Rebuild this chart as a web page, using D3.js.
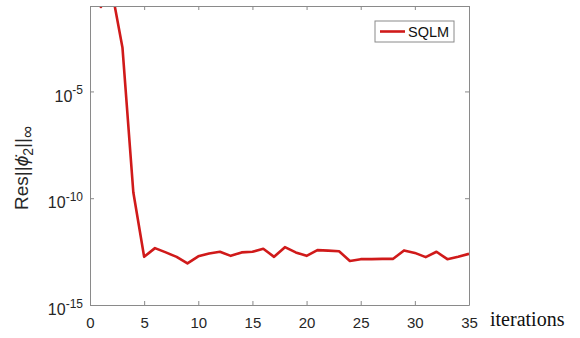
<!DOCTYPE html>
<html>
<head>
<meta charset="utf-8">
<script src="https://cdn.jsdelivr.net/npm/d3@7"></script>
<style>
  body { margin: 0; background: #fff; }
  svg { display: block; }
  .tick text { font-family: "Liberation Sans", Arial, sans-serif; fill: #262626; }
</style>
</head>
<body>
<div id="chart"></div>
<script>
// values
const iterations = d3.range(0, 36);
const residual = [
  1, 0.09, 0.6, 1.1e-3, 1.9e-10, 1.8e-13, 4.6e-13, 2.9e-13, 1.8e-13, 8.9e-14,
  1.9e-13, 2.6e-13, 3.1e-13, 2.0e-13, 2.9e-13, 3.1e-13, 4.3e-13, 1.8e-13, 5.1e-13, 2.9e-13,
  2.0e-13, 3.7e-13, 3.5e-13, 3.3e-13, 1.15e-13, 1.4e-13, 1.4e-13, 1.45e-13, 1.45e-13, 3.6e-13,
  2.75e-13, 1.75e-13, 3.1e-13, 1.4e-13, 1.8e-13, 2.5e-13
];
const xTicks = [0, 5, 10, 15, 20, 25, 30, 35];
const yTickExps = [-15, -10, -5];
const seriesName = "SQLM";

const width = 580, height = 338;
const margin = {top: 6, right: 111, bottom: 33, left: 90};
const iw = width - margin.left - margin.right;
const ih = height - margin.top - margin.bottom;
const red = "#d01a1a", axisCol = "#8a8a8a";

const x = d3.scaleLinear().domain([0, 35]).range([0, iw]);
const y = d3.scaleLog().domain([1e-15, 1e-1]).range([ih, 0]);

const svg = d3.select("#chart").append("svg")
  .attr("width", width).attr("height", height);

const g = svg.append("g")
  .attr("transform", `translate(${margin.left},${margin.top})`);

g.append("clipPath").attr("id", "clip")
  .append("rect").attr("width", iw).attr("height", ih);

// line
const line = d3.line()
  .x((d, i) => x(iterations[i]))
  .y(d => y(d));

g.append("path")
  .datum(residual)
  .attr("clip-path", "url(#clip)")
  .attr("fill", "none")
  .attr("stroke", red)
  .attr("stroke-width", 2.6)
  .attr("stroke-linejoin", "round")
  .attr("d", line);

// axes (matlab style box with inward ticks)
const yTicks = yTickExps.map(e => Math.pow(10, e));
const styleAxis = sel => {
  sel.select(".domain").attr("stroke", axisCol);
  sel.selectAll(".tick line").attr("stroke", axisCol);
};

g.append("g").attr("transform", `translate(0,${ih})`)
  .call(d3.axisBottom(x).tickValues(xTicks).tickSize(-4).tickSizeOuter(0).tickPadding(12))
  .call(styleAxis)
  .call(s => s.selectAll(".tick text").attr("font-size", 15));

g.append("g")
  .call(d3.axisTop(x).tickValues(xTicks).tickSize(-4).tickSizeOuter(0).tickFormat(""))
  .call(styleAxis);

const yAx = g.append("g")
  .call(d3.axisLeft(y).tickValues(yTicks).tickSize(-4).tickSizeOuter(0).tickPadding(7).tickFormat(""))
  .call(styleAxis);

yAx.selectAll(".tick text").each(function(d) {
  const t = d3.select(this)
    .attr("font-size", 16)
    .attr("dy", "0.6em");
  t.append("tspan").text("10");
  t.append("tspan").attr("dy", "-0.6em").attr("font-size", 12)
    .text(String(Math.round(Math.log10(d))));
});

g.append("g").attr("transform", `translate(${iw},0)`)
  .call(d3.axisRight(y).tickValues(yTicks).tickSize(-4).tickSizeOuter(0).tickFormat(""))
  .call(styleAxis);

// axis titles
const yl = svg.append("text")
  .attr("transform", `translate(28,${margin.top + 162}) rotate(-90)`)
  .attr("text-anchor", "middle")
  .attr("font-family", "Liberation Sans, Arial, sans-serif")
  .attr("font-size", 19)
  .attr("fill", "#262626");
yl.append("tspan").text("Res||");
yl.append("tspan").attr("font-style", "italic").text("\u03D5\u0307");
yl.append("tspan").attr("font-size", 14).attr("dy", 5).text("2");
yl.append("tspan").attr("dy", -5).text("||");
yl.append("tspan").attr("font-size", 17).attr("dy", 5).text("\u221E");

svg.append("text")
  .attr("x", margin.left + iw + 21)
  .attr("y", 326)
  .attr("font-family", "Liberation Serif, Times New Roman, serif")
  .attr("font-size", 20)
  .attr("fill", "#111")
  .text("iterations");

// legend
const lg = g.append("g").attr("transform", `translate(${iw - 94},15)`);
lg.append("rect")
  .attr("width", 79).attr("height", 21)
  .attr("fill", "#fff").attr("stroke", axisCol).attr("stroke-width", 1);
lg.append("line")
  .attr("x1", 5).attr("x2", 30).attr("y1", 10.5).attr("y2", 10.5)
  .attr("stroke", red).attr("stroke-width", 2.6);
lg.append("text")
  .attr("x", 33).attr("y", 15.5)
  .attr("font-family", "Liberation Sans, Arial, sans-serif")
  .attr("font-size", 14.5)
  .attr("fill", "#111")
  .text(seriesName);
</script>
</body>
</html>
